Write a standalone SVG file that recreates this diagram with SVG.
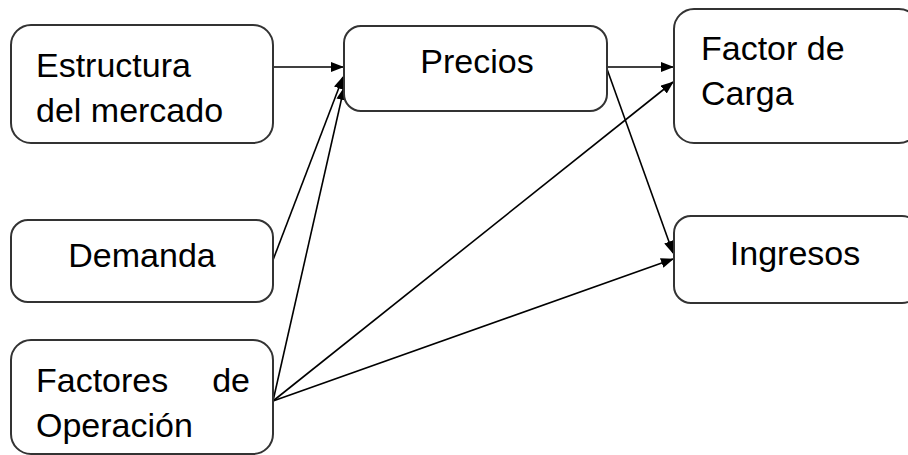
<svg xmlns="http://www.w3.org/2000/svg" width="908" height="455" viewBox="0 0 908 455">
<style>
.box{fill:#fff;stroke:#333;stroke-width:2}
.t{font-family:"Liberation Sans",Arial,sans-serif;font-size:34px;fill:#000}
.c{fill:none;stroke:#000;stroke-width:1.6}
</style>
<defs>
<marker id="ah" markerUnits="userSpaceOnUse" markerWidth="13" markerHeight="11" refX="12" refY="5" orient="auto">
<path d="M0,0 L13,5 L0,10 z" fill="#000"/>
</marker>
</defs>
<rect width="908" height="455" fill="#fff"/>
<g id="connectors">
<line class="c" x1="273" y1="67" x2="343" y2="67" marker-end="url(#ah)"/>
<line class="c" x1="273" y1="260" x2="343" y2="77" marker-end="url(#ah)"/>
<line class="c" x1="273" y1="401" x2="344" y2="88" marker-end="url(#ah)"/>
<line class="c" x1="607" y1="67" x2="673" y2="67" marker-end="url(#ah)"/>
<line class="c" x1="273" y1="401" x2="673" y2="82" marker-end="url(#ah)"/>
<line class="c" x1="607" y1="69" x2="673" y2="253" marker-end="url(#ah)"/>
<line class="c" x1="273" y1="401" x2="673" y2="259" marker-end="url(#ah)"/>
</g>
<g id="estructura">
<rect class="box" x="11" y="25" width="262" height="118" rx="20"/>
<text class="t" x="36" y="77">Estructura</text>
<text class="t" x="36" y="122">del mercado</text>
</g>
<g id="precios">
<rect class="box" x="344" y="26" width="263" height="85" rx="17"/>
<text class="t" x="477" y="73" text-anchor="middle">Precios</text>
</g>
<g id="factor-carga">
<rect class="box" x="674" y="9" width="245" height="134" rx="20"/>
<text class="t" x="701" y="60">Factor de</text>
<text class="t" x="701" y="105">Carga</text>
</g>
<g id="demanda">
<rect class="box" x="11" y="220" width="262" height="82" rx="17"/>
<text class="t" x="142" y="267" text-anchor="middle">Demanda</text>
</g>
<g id="ingresos">
<rect class="box" x="674" y="216" width="245" height="87" rx="17"/>
<text class="t" x="795" y="265" text-anchor="middle">Ingresos</text>
</g>
<g id="factores">
<rect class="box" x="11" y="340" width="262" height="114" rx="20"/>
<text class="t" x="36" y="392">Factores</text>
<text class="t" x="250" y="392" text-anchor="end">de</text>
<text class="t" x="36" y="437">Operación</text>
</g>
</svg>
